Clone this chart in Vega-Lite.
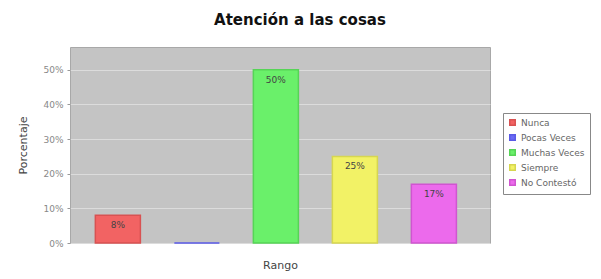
{
  "$schema": "https://vega.github.io/schema/vega-lite/v6.json",
  "autosize": "none",
  "width": 420,
  "height": 196,
  "padding": {"left": 70, "top": 47, "right": 111, "bottom": 36},
  "background": "white",
  "config": {
    "view": {"fill": "#c4c4c4", "stroke": "#a8a8a8"},
    "font": "DejaVu Sans"
  },
  "title": {
    "text": "Atención a las cosas",
    "fontSize": 15,
    "fontWeight": "bold",
    "font": "DejaVu Sans",
    "color": "#111",
    "offset": 19,
    "dx": 20
  },
  "data": {
    "values": [
      {"rango": "Nunca", "pct": 0.08, "label": "8%"},
      {"rango": "Pocas Veces", "pct": 0.0, "label": ""},
      {"rango": "Muchas Veces", "pct": 0.50, "label": "50%"},
      {"rango": "Siempre", "pct": 0.25, "label": "25%"},
      {"rango": "No Contestó", "pct": 0.17, "label": "17%"}
    ]
  },
  "encoding": {
    "x": {
      "field": "rango",
      "type": "nominal",
      "sort": null,
      "scale": {"paddingInner": 0.43, "paddingOuter": 0.373, "align": 0.43},
      "axis": {"labels": false, "ticks": false, "domain": false, "title": "Rango", "titleFontSize": 11, "titleFontWeight": "normal", "titleColor": "#444", "titlePadding": 16}
    },
    "y": {
      "field": "pct",
      "type": "quantitative",
      "scale": {"domain": [0, 0.566], "nice": false},
      "axis": {"format": ".0%", "values": [0, 0.1, 0.2, 0.3, 0.4, 0.5], "title": "Porcentaje", "titleFontSize": 11, "titleFontWeight": "normal", "titleColor": "#444", "titlePadding": 14, "labelFontSize": 9, "labelColor": "#888", "gridColor": "#dcdcdc", "gridWidth": 1, "domain": false, "tickColor": "#999", "tickSize": 3, "labelPadding": 4}
    }
  },
  "layer": [
    {
      "mark": {"type": "bar", "strokeWidth": 1.5},
      "encoding": {
        "color": {
          "field": "rango",
          "type": "nominal",
          "sort": null,
          "scale": {"domain": ["Nunca", "Pocas Veces", "Muchas Veces", "Siempre", "No Contestó"], "range": ["#f26363", "#6b6bf5", "#6af06a", "#f2f266", "#ec6aec"]},
          "legend": {
            "orient": "none",
            "legendX": 433,
            "legendY": 66,
            "title": null,
            "symbolType": "square",
            "symbolSize": 30,
            "labelFontSize": 9,
            "labelColor": "#666",
            "strokeColor": "#888",
            "padding": 5,
            "rowPadding": 2,
            "fillColor": "white"
          }
        },
        "stroke": {
          "field": "rango",
          "type": "nominal",
          "sort": null,
          "scale": {"domain": ["Nunca", "Pocas Veces", "Muchas Veces", "Siempre", "No Contestó"], "range": ["#d85252", "#5a5ae6", "#56d456", "#d6d650", "#d055d0"]},
          "legend": null
        }
      }
    },
    {
      "mark": {"type": "text", "baseline": "top", "dy": 6, "fontSize": 9, "color": "#444"},
      "encoding": {"text": {"field": "label"}}
    }
  ]
}
